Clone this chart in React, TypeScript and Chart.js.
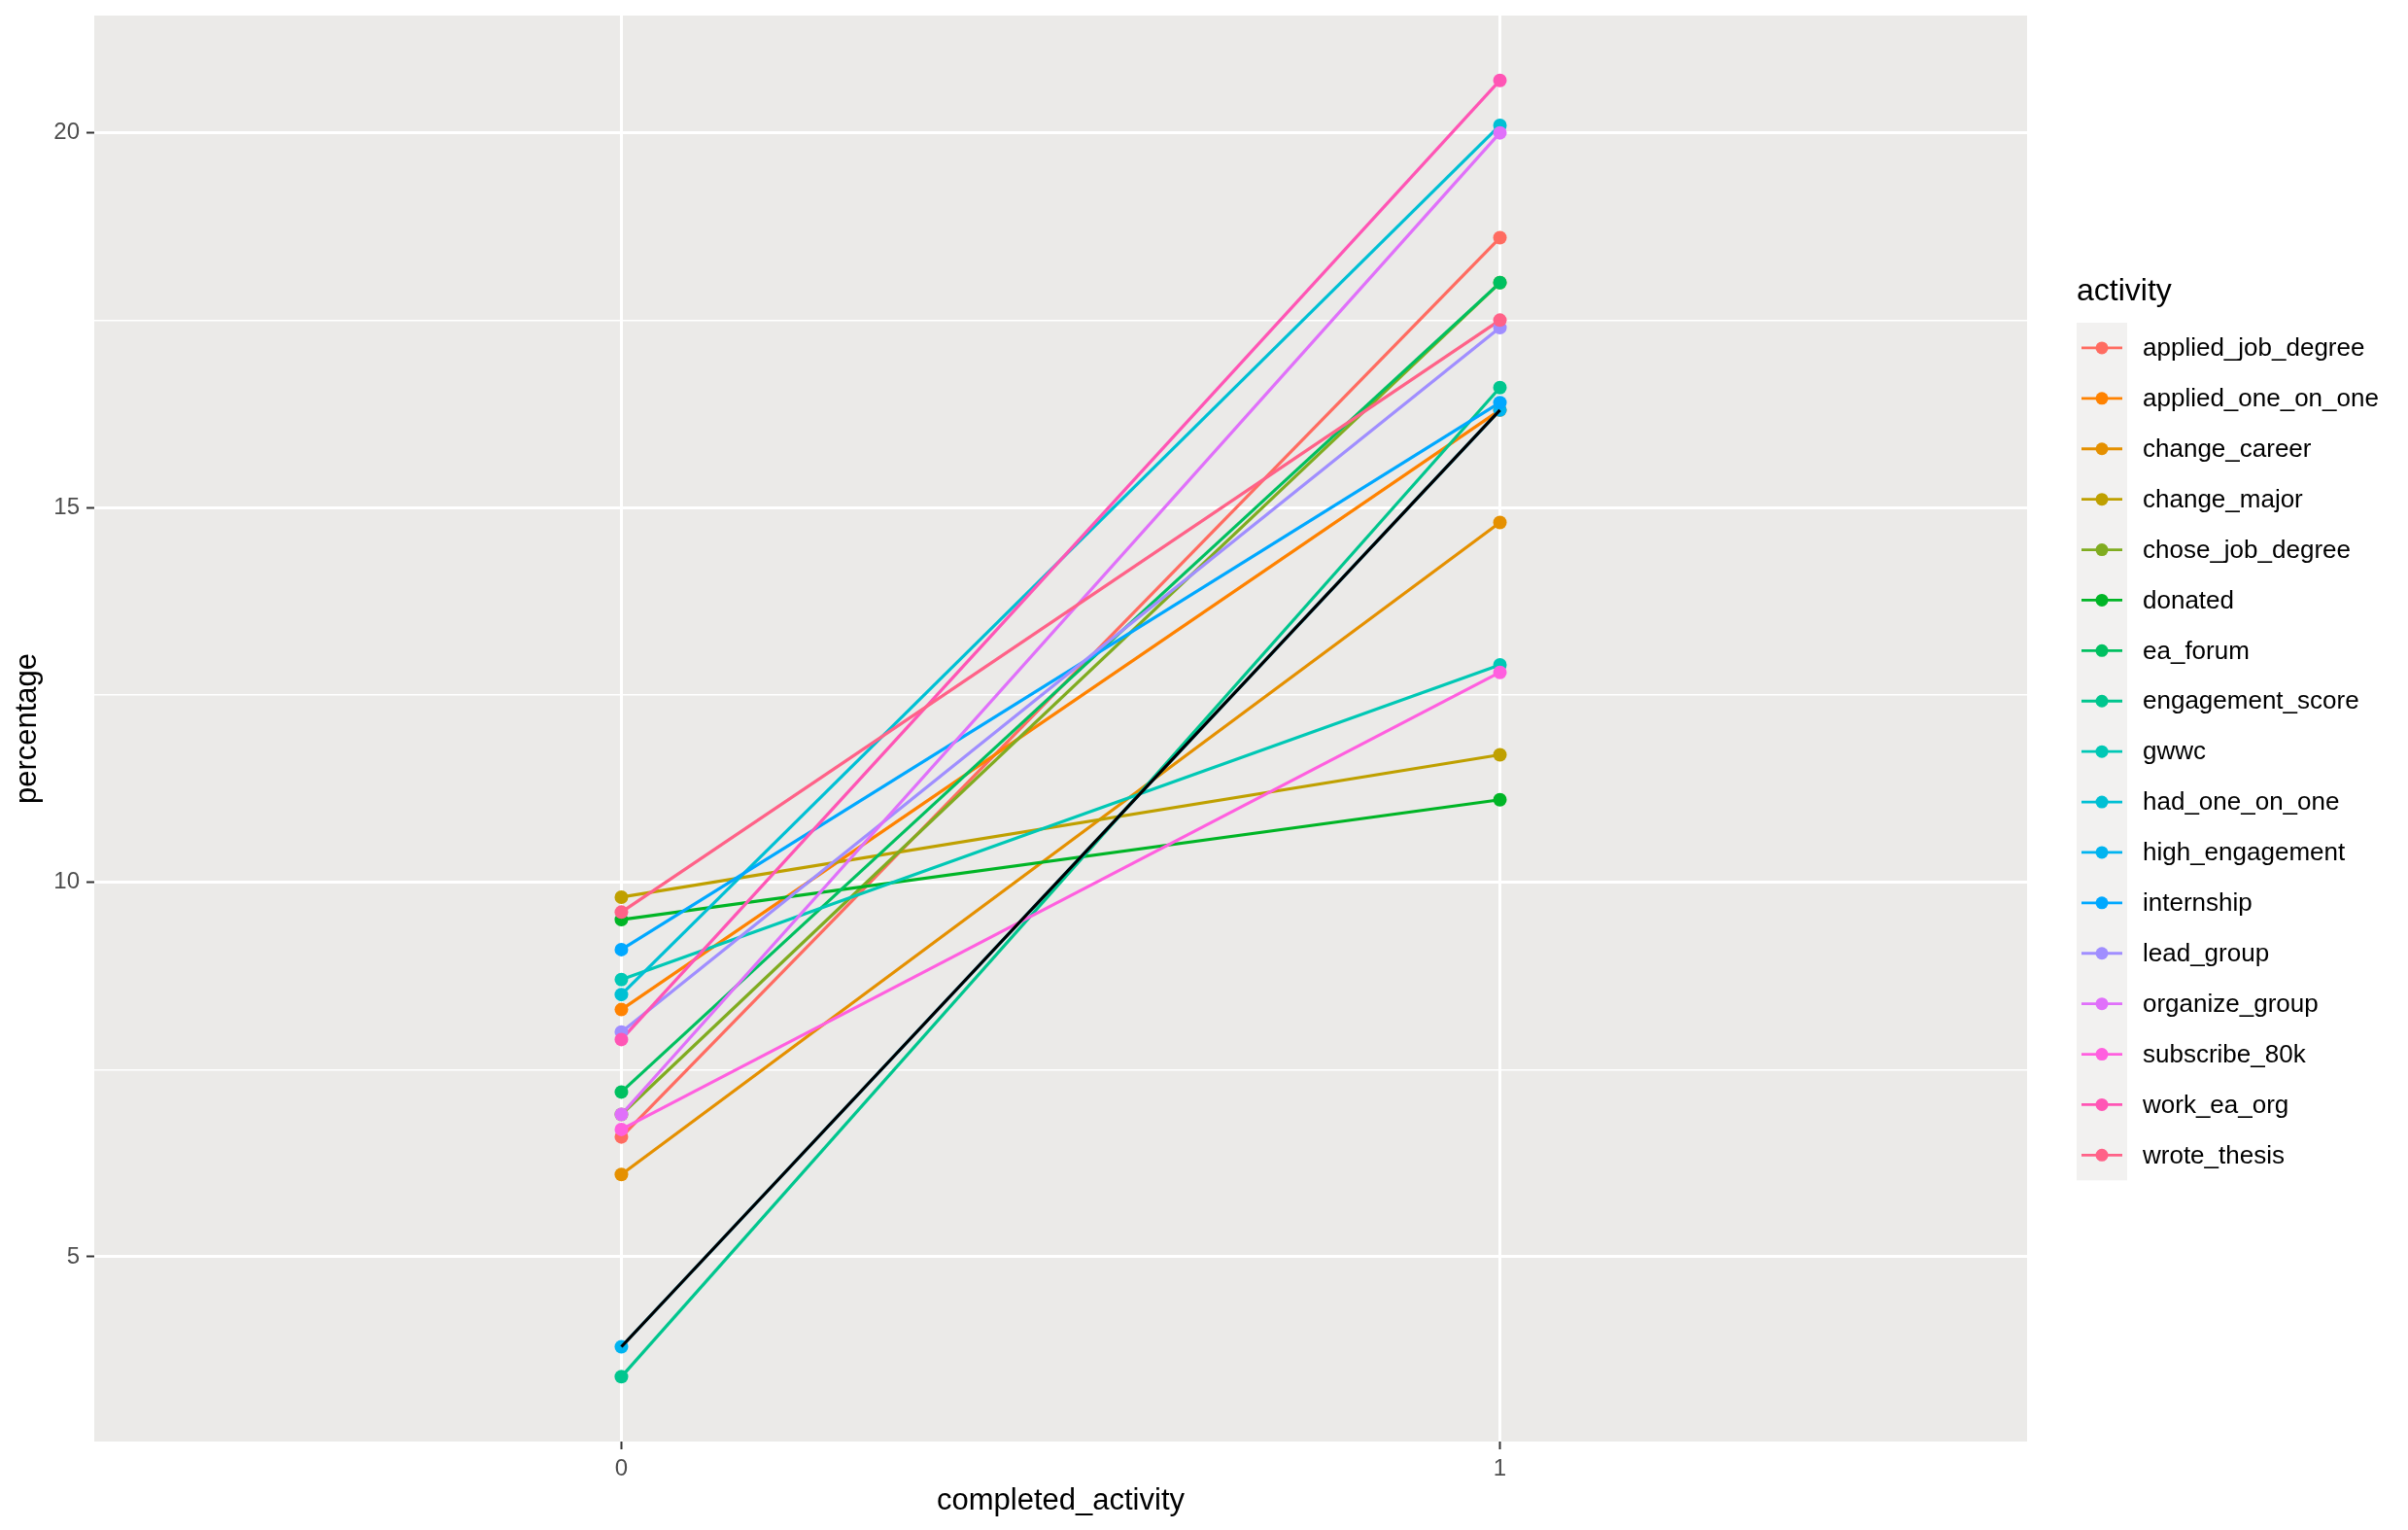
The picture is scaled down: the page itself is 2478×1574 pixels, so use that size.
import React, { useEffect, useRef } from "react";
import { Chart, registerables } from "chart.js";

Chart.register(...registerables);

const categories = [0, 1];
const activities = [
  "applied_job_degree",
  "applied_one_on_one",
  "change_career",
  "change_major",
  "chose_job_degree",
  "donated",
  "ea_forum",
  "engagement_score",
  "gwwc",
  "had_one_on_one",
  "high_engagement",
  "internship",
  "lead_group",
  "organize_group",
  "subscribe_80k",
  "work_ea_org",
  "wrote_thesis",
];
const valuesAt0 = [6.6, 8.3, 6.1, 9.8, 6.9, 9.5, 7.2, 3.4, 8.7, 8.5, 3.8, 9.1, 8.0, 6.9, 6.7, 7.9, 9.6];
const valuesAt1 = [18.6, 16.3, 14.8, 11.7, 18.0, 11.1, 18.0, 16.6, 12.9, 20.1, 16.3, 16.4, 17.4, 20.0, 12.8, 20.7, 17.5];
const highlightValues = [3.8, 16.3];
const yTicks = [5, 7.5, 10, 12.5, 15, 17.5, 20];
const xTicks = [0, 1];
const palette = [
  "#FF6C61",
  "#FF8200",
  "#E59000",
  "#BFA000",
  "#80AC20",
  "#00B526",
  "#00C060",
  "#00C68E",
  "#00C8B5",
  "#00C0D4",
  "#00B4F0",
  "#00A8FF",
  "#A08EFF",
  "#E070FA",
  "#FF5FDF",
  "#FF55B5",
  "#FF6288",
];

const FONT = "'Liberation Sans', Arial, sans-serif";

export default function App() {
  const ref = useRef<HTMLCanvasElement | null>(null);

  useEffect(() => {
    document.body.style.margin = "0";
    const canvas = ref.current!;
    const lineSets = activities.map((name, i) => ({
      label: name,
      data: categories.map((c, k) => ({ x: c, y: k === 0 ? valuesAt0[i] : valuesAt1[i] })),
      borderColor: palette[i],
      backgroundColor: palette[i],
      borderWidth: 3.2,
      pointRadius: 0,
      showLine: true,
      order: 200 - i,
    }));
    const pointSets = activities.map((name, i) => ({
      label: name + "_pts",
      data: categories.map((c, k) => ({ x: c, y: k === 0 ? valuesAt0[i] : valuesAt1[i] })),
      borderColor: palette[i],
      backgroundColor: palette[i],
      borderWidth: 0,
      pointRadius: 7,
      pointBorderWidth: 0,
      showLine: false,
      order: 100 - i,
    }));
    const highlight = {
      label: "highlight",
      data: categories.map((c, k) => ({ x: c, y: highlightValues[k] })),
      borderColor: "#000000",
      backgroundColor: "#000000",
      borderWidth: 3.2,
      pointRadius: 0,
      showLine: true,
      order: 0,
    };

    const bgPlugin = {
      id: "bg",
      beforeDraw(chart: any) {
        const { ctx, chartArea } = chart;
        ctx.save();
        ctx.fillStyle = "#ffffff";
        ctx.fillRect(0, 0, chart.width, chart.height);
        ctx.fillStyle = "#EBEAE8";
        ctx.fillRect(chartArea.left, chartArea.top, chartArea.right - chartArea.left, chartArea.bottom - chartArea.top);
        ctx.restore();
      },
    };

    const textPlugin = {
      id: "texts",
      afterDraw(chart: any) {
        const { ctx, chartArea } = chart;
        ctx.save();
        ctx.fillStyle = "#000000";
        ctx.font = `31px ${FONT}`;
        ctx.textAlign = "center";
        ctx.textBaseline = "middle";
        ctx.fillText("completed_activity", (chartArea.left + chartArea.right) / 2, 1544);
        ctx.save();
        ctx.translate(28, (chartArea.top + chartArea.bottom) / 2);
        ctx.rotate(-Math.PI / 2);
        ctx.fillText("percentage", 0, 0);
        ctx.restore();

        const lx = 2137;
        const keyW = 52;
        const keyH = 51.9;
        const top = 332;
        ctx.textAlign = "left";
        ctx.font = `32px ${FONT}`;
        ctx.fillText("activity", lx, 300);
        ctx.fillStyle = "#F2F1F0";
        ctx.fillRect(lx, top, keyW, keyH * activities.length);
        ctx.font = `26px ${FONT}`;
        activities.forEach((name, i) => {
          const cy = top + keyH * i + keyH / 2;
          ctx.strokeStyle = palette[i];
          ctx.lineWidth = 2.8;
          ctx.beginPath();
          ctx.moveTo(lx + 5, cy);
          ctx.lineTo(lx + 47, cy);
          ctx.stroke();
          ctx.fillStyle = palette[i];
          ctx.beginPath();
          ctx.arc(lx + keyW / 2, cy, 6.5, 0, Math.PI * 2);
          ctx.fill();
          ctx.fillStyle = "#000000";
          ctx.fillText(name, 2205, cy + 1);
        });
        ctx.restore();
      },
    };

    const chart = new Chart(canvas, {
      type: "line",
      data: { datasets: [...lineSets, ...pointSets, highlight] as any },
      options: {
        animation: false,
        responsive: false,
        layout: { padding: { top: 16, right: 392, bottom: 0, left: 0 } },
        plugins: { legend: { display: false }, tooltip: { enabled: false } },
        scales: {
          x: {
            type: "linear",
            min: -0.6,
            max: 1.6,
            afterBuildTicks: (axis: any) => {
              axis.ticks = xTicks.map((v) => ({ value: v }));
            },
            afterFit: (axis: any) => {
              axis.height = 91;
              axis.paddingLeft = 0;
              axis.paddingRight = 0;
            },
            border: { display: false },
            grid: {
              color: "#ffffff",
              lineWidth: 3,
              tickColor: "#333333",
              tickWidth: 2,
              tickLength: 8,
            },
            ticks: {
              autoSkip: false,
              maxRotation: 0,
              padding: 6,
              color: "#4D4D4D",
              font: { family: FONT, size: 24 },
              callback: (v: any) => String(v),
            },
          },
          y: {
            type: "linear",
            min: 2.535,
            max: 21.565,
            afterBuildTicks: (axis: any) => {
              axis.ticks = yTicks.map((v) => ({ value: v }));
            },
            afterFit: (axis: any) => {
              axis.width = 97;
              axis.paddingTop = 0;
              axis.paddingBottom = 0;
            },
            border: { display: false },
            grid: {
              color: "#ffffff",
              lineWidth: (c: any) => (c.tick && c.tick.value % 5 === 0 ? 3 : 1.5),
              tickColor: (c: any) => (c.tick && c.tick.value % 5 === 0 ? "#333333" : "rgba(0,0,0,0)"),
              tickWidth: 2,
              tickLength: 8,
            },
            ticks: {
              autoSkip: false,
              padding: 7,
              color: "#4D4D4D",
              font: { family: FONT, size: 24 },
              callback: (v: any) => (Number(v) % 5 === 0 ? String(v) : ""),
            },
          },
        },
      } as any,
      plugins: [bgPlugin, textPlugin],
    });
    return () => chart.destroy();
  }, []);

  return (
    <div style={{ width: 2478, height: 1574, position: "relative" }}>
      <canvas ref={ref} width={2478} height={1574} style={{ display: "block", width: 2478, height: 1574 }} />
    </div>
  );
}
